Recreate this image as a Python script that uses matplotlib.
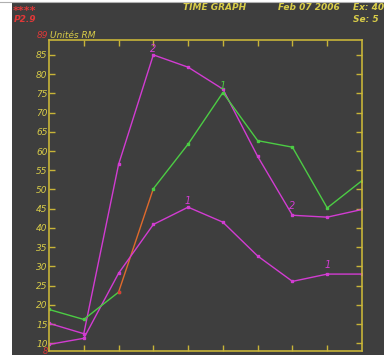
import matplotlib
matplotlib.use("Agg")
import matplotlib.pyplot as plt
import numpy as np

# Time positions (samples) and series values
steps = list(range(10))
series_1 = [9.7, 11.3, 28.2, 40.9, 45.4, 41.5, 32.7, 26.1, 28.0, 28.0]
series_2 = [15.2, 12.5, 56.5, 85.0, 81.8, 76.1, 58.6, 43.3, 42.8, 44.8]
series_3 = [18.8, 16.2, 23.3, 50.2, 61.8, 75.2, 62.7, 61.0, 45.2, 52.3]
y_ticks = list(range(10, 90, 5))
y_min, y_max = 8, 89

BG = "#3e3e3e"
YEL = "#d8cc48"
FRAME = "#c8b438"
RED = "#e03838"
MAG = "#d23cd2"
GRN = "#4ccc44"
ORG = "#e06a2c"

fig = plt.figure(figsize=(3.84, 3.55), dpi=100)
fig.patch.set_facecolor("white")
# dark panel behind everything
fig.add_artist(plt.Rectangle((12 / 384, 0), 1, 1 - 3 / 355, transform=fig.transFigure,
                             facecolor=BG, edgecolor="none", zorder=-10))
fig.add_artist(plt.Line2D([0, 1], [1 - 1.5 / 355] * 2, transform=fig.transFigure,
                          color="#b0b0b0", lw=0.8))

ax = fig.add_axes([49 / 384, 1 - 351 / 355, (362 - 49) / 384, (351 - 39.5) / 355])
ax.set_facecolor(BG)
ax.set_xlim(0, 9)
ax.set_ylim(y_min, y_max)
for s in ax.spines.values():
    s.set_color(FRAME)
    s.set_linewidth(1.2)

ax.set_yticks(y_ticks)
ax.set_yticklabels([str(v) for v in y_ticks])
ax.set_xticks(steps[1:-1])
ax.set_xticklabels([])
ax.tick_params(axis="y", direction="in", length=4, width=1, color=FRAME,
               labelcolor=YEL, labelsize=6.5, pad=1, right=True)
ax.tick_params(axis="x", direction="in", length=4, width=1, color=FRAME, top=True)
for lbl in ax.get_yticklabels():
    lbl.set_fontstyle("italic")

mk = dict(marker="s", markersize=2, lw=1.0)
ax.plot(steps, series_1, color=MAG, **mk)
ax.plot(steps, series_2, color=MAG, **mk)
ax.plot(steps[:3], series_3[:3], color=GRN, **mk)
ax.plot(steps[3:], series_3[3:], color=GRN, **mk)
ax.plot(steps[2:4], series_3[2:4], color=ORG, lw=1.0, zorder=1.5)
ax.plot([steps[2]], [series_3[2]], marker="s", markersize=2, color=RED)

lab = dict(fontsize=7, fontstyle="italic", ha="center", va="bottom")
ax.text(3, series_2[3] + 0.3, "2", color=MAG, **lab)
ax.text(7, series_2[7] + 1.0, "2", color=MAG, **lab)
ax.text(4, series_1[4] + 0.3, "1", color=MAG, **lab)
ax.text(8, series_1[8] + 1.0, "1", color=MAG, **lab)
ax.text(5, series_3[5] + 0.3, "1", color=GRN, **lab)

# axis range annotations
ax.text(-0.03, y_max, "89", color=RED, fontsize=6.5, fontstyle="italic",
        ha="right", va="bottom", clip_on=False)
ax.text(0.03, y_max, "Unités RM", color=YEL, fontsize=6.5, fontstyle="italic",
        ha="left", va="bottom", clip_on=False)
ax.text(-0.02, y_min, "8", color=RED, fontsize=6, fontstyle="italic",
        ha="right", va="center", clip_on=False)

# header
hdr = dict(fontsize=6.5, fontstyle="italic", fontweight="bold", va="center")
fig.text(13 / 384, 1 - 11 / 355, "****", color=RED, fontsize=8, fontweight="bold",
         va="center")
fig.text(14 / 384, 1 - 20 / 355, "P2.9", color=RED, **hdr)
fig.text(183 / 384, 1 - 8 / 355, "TIME GRAPH", color=YEL, **hdr)
fig.text(278 / 384, 1 - 8 / 355, "Feb 07 2006", color=YEL, **hdr)
fig.text(353 / 384, 1 - 8 / 355, "Ex: 401", color=YEL, **hdr)
fig.text(353 / 384, 1 - 20 / 355, "Se: 5", color=YEL, **hdr)

fig.savefig("out.png", dpi=100, facecolor=fig.get_facecolor())
